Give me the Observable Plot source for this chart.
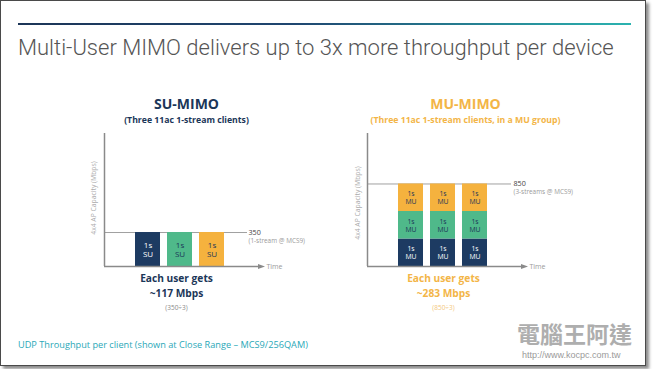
<!DOCTYPE html>
<html>
<head>
<meta charset="utf-8">
<script src="https://cdn.jsdelivr.net/npm/d3@7"></script>
<script src="https://cdn.jsdelivr.net/npm/@observablehq/plot@0.6"></script>
<style>
  html, body { margin: 0; padding: 0; background: #ffffff; }
  #slide { position: relative; width: 654px; height: 369px; overflow: hidden; background: #ffffff; }
  #sheet { position: absolute; left: 0; top: 0; width: 644px; height: 364px; border: 1px solid #4a4a4a;
           box-shadow: 3px 3px 3px rgba(0,0,0,0.45); background: #fff; }
  #topRule { position: absolute; left: 18px; top: 23px; width: 613px; height: 2px;
             background: linear-gradient(90deg, #1c3557 0%, #1f4670 45%, #2bb3b0 100%); }
  #title { position: absolute; left: 18px; top: 37px; font: 300 22px/22px Roboto, sans-serif; color: #555;
           white-space: nowrap; }
  .panel { position: absolute; top: 0; }
  #footer { position: absolute; left: 18px; top: 340px; font: 400 9.2px/10px "Open Sans", sans-serif;
            color: #2aa8b8; white-space: nowrap; }
  #wm { position: absolute; left: 517px; top: 320px; font: 700 23px/26px "Noto Sans CJK TC", sans-serif;
        color: #a6a6a6; letter-spacing: 0px; white-space: nowrap; opacity: 0.9; }
  #wmUrl { position: absolute; left: 522px; top: 350px; font: 400 9px/10px "Liberation Sans", sans-serif;
           color: #9a9a9a; white-space: nowrap; }
</style>
</head>
<body>
<div id="slide">
  <div id="sheet"></div>
  <div id="topRule"></div>
  <div id="title"></div>
  <div id="left" class="panel" style="left:0px"></div>
  <div id="right" class="panel" style="left:263px"></div>
  <div id="footer"></div>
  <div id="wm"></div>
  <div id="wmUrl"></div>
</div>
<script>
// ---------- data ----------
const slideTitle = "Multi-User MIMO delivers up to 3x more throughput per device";
const footerText = "UDP Throughput per client (shown at Close Range \u2013 MCS9/256QAM)";
const watermarkText = "電腦王阿達";
const watermarkUrl = "http://www.kocpc.com.tw";

const clients = ["Client 1", "Client 2", "Client 3"];
const suSlotMbps = [350, 350, 350];           // one 1-stream client per time slot
const suLabels = ["1s\nSU", "1s\nSU", "1s\nSU"];
const muStreams = ["Stream 1", "Stream 2", "Stream 3"]; // bottom → top
const muStreamMbps = [283.3, 283.3, 283.3];  // per stream in each slot
const muLabel = "1s\nMU";

const capacity = [350, 850];
const capacityLabels = ["350", "850"];
const capacityNotes = ["(1-stream @ MCS9)", "(3-streams @ MCS9)"];
const panelTitles = ["SU-MIMO", "MU-MIMO"];
const panelSubtitles = ["(Three 11ac 1-stream clients)", "(Three 11ac 1-stream clients, in a MU group)"];
const perUserLead = ["Each user gets", "Each user gets"];
const perUserMbps = ["~117 Mbps", "~283 Mbps"];
const perUserFormula = ["(350\u00f73)", "(850\u00f73)"];
const yAxisLabel = "4x4 AP Capacity (Mbps)";
const xAxisLabel = "Time";
const yDomain = [0, 1370];

// ---------- styles ----------
const palette = ["#1d3b62", "#4fb98a", "#f5b23e"];
const navy = "#1b3658";
const orange = "#f3b547";
const axisColor = "#8a8a8a";

document.getElementById("title").textContent = slideTitle;
document.getElementById("footer").textContent = footerText;
document.getElementById("wm").textContent = watermarkText;
document.getElementById("wmUrl").textContent = watermarkUrl;

const suRows = clients.map((c, i) => ({client: c, key: c, mbps: suSlotMbps[i], label: suLabels[i]}));
const muRows = clients.flatMap(c => muStreams.map((s, j) => ({client: c, key: s, mbps: muStreamMbps[j], label: muLabel})));

const W = 300, H = 369, mL = 104, mR = 40, mT = 133, mB = 103;
const frameW = W - mL - mR;

const arrowHead = {
  draw(ctx) {
    ctx.moveTo(3.5, 0);
    ctx.lineTo(-3.5, -2.6);
    ctx.lineTo(-3.5, 2.6);
    ctx.closePath();
  }
};

const font = "'Open Sans', sans-serif";

function panel(i, rows, keys, cfg) {
  const darkKey = keys[0];
  return Plot.plot({
    width: W, height: H,
    marginLeft: mL, marginRight: mR, marginTop: mT, marginBottom: mB,
    style: {background: "transparent", overflow: "visible", fontFamily: font},
    x: {domain: clients, axis: null, paddingInner: 0.234, paddingOuter: 1.05, align: 0.46},
    y: {domain: yDomain, axis: null},
    color: {domain: keys, range: palette},
    marks: [
      // capacity line
      Plot.ruleY([capacity[i]], {stroke: "#a0a0a0", strokeWidth: 1, insetRight: cfg.capInset}),
      // bars
      Plot.barY(rows, {x: "client", y: "mbps", fill: "key"}),
      Plot.text(rows, Plot.stackY({x: "client", y: "mbps",
        text: d => d.key === darkKey ? d.label : "", fill: "#ffffff",
        fontSize: cfg.labelSize, lineHeight: 1.2, fontFamily: font})),
      Plot.text(rows, Plot.stackY({x: "client", y: "mbps",
        text: d => d.key !== darkKey ? d.label : "", fill: navy,
        fontSize: cfg.labelSize, lineHeight: 1.2, fontFamily: font})),
      // axes
      Plot.ruleY([0], {stroke: axisColor, strokeWidth: 1.5}),
      Plot.ruleX([yDomain[1]], {x: null, y1: 0, y2: d => d, dx: -frameW / 2, stroke: axisColor, strokeWidth: 1.5}),
      Plot.dot([0], {y: d => d, frameAnchor: "right", symbol: arrowHead, fill: axisColor, stroke: null, dx: 1}),
      Plot.text([xAxisLabel], {y: () => 0, frameAnchor: "right", textAnchor: "start", dx: 6,
        fontSize: 7, fill: "#9a9a9a", fontFamily: font}),
      Plot.text([yAxisLabel], {frameAnchor: "left", textAnchor: "middle", rotate: -90, dx: cfg.yLabelDx,
        dy: cfg.yLabelDy, fontSize: 6.8, fill: "#aaaaaa", fontFamily: font}),
      // capacity annotation
      Plot.text([capacity[i]], {y: d => d, text: () => capacityLabels[i], frameAnchor: "right",
        textAnchor: "start", dx: cfg.capDx, dy: 0, fontSize: 7.2, fill: "#444", fontFamily: font}),
      Plot.text([capacity[i]], {y: d => d, text: () => capacityNotes[i], frameAnchor: "right",
        textAnchor: "start", dx: cfg.capDx, dy: 8, fontSize: 6.4, fill: "#9a9a9a", fontFamily: font}),
      // headings
      Plot.text([panelTitles[i]], {frameAnchor: "top", dx: cfg.titleDx, dy: -34,
        fontSize: 14, fontWeight: 700, fill: cfg.accent, fontFamily: font}),
      Plot.text([panelSubtitles[i]], {frameAnchor: "top", dx: cfg.titleDx, dy: -17,
        fontSize: 8.7, fontWeight: 700, fill: cfg.accent, fontFamily: font}),
      // per-user result
      Plot.text([perUserLead[i]], {frameAnchor: "bottom", dx: cfg.bottomDx, dy: 15,
        fontSize: 10.2, fontWeight: 700, fill: cfg.accent, fontFamily: font}),
      Plot.text([perUserMbps[i]], {frameAnchor: "bottom", dx: cfg.bottomDx, dy: 30,
        fontSize: 10.2, fontWeight: 700, fill: cfg.accent, fontFamily: font}),
      Plot.text([perUserFormula[i]], {frameAnchor: "bottom", dx: cfg.bottomDx, dy: 43,
        fontSize: 6.5, fill: cfg.formulaColor, fontFamily: font})
    ]
  });
}

document.getElementById("left").append(panel(0, suRows, clients, {
  accent: navy, formulaColor: "#8a8a8a", capInset: 13, capDx: -12, titleDx: 4, bottomDx: -6,
  labelSize: 8, yLabelDx: -11, yLabelDy: -2
}));
document.getElementById("right").append(panel(1, muRows, muStreams, {
  accent: orange, formulaColor: "#f3c77e", capInset: 12, capDx: -10, titleDx: 20, bottomDx: -2,
  labelSize: 6.8, yLabelDx: -10, yLabelDy: 3
}));
</script>
</body>
</html>
